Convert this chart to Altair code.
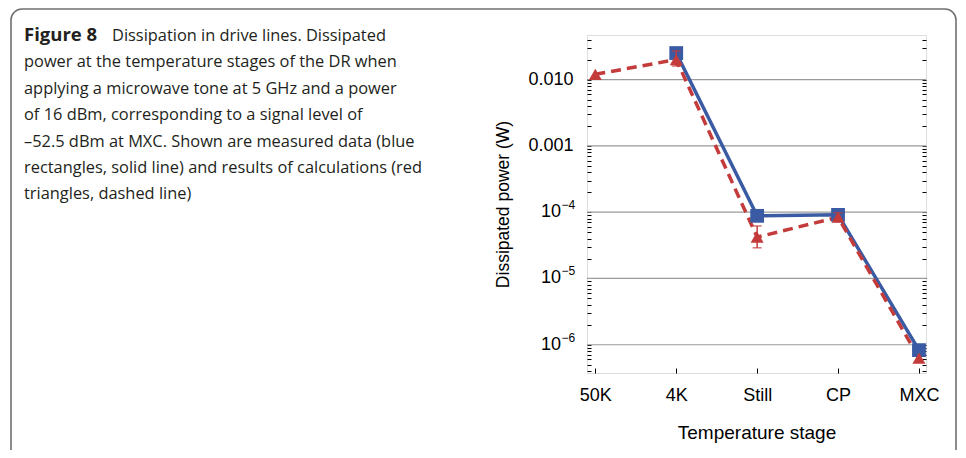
import json
import altair as alt
import pandas as pd

# ---- data ----
stages = ["50K", "4K", "Still", "CP", "MXC"]

meas_stages = ["4K", "Still", "CP", "MXC"]
meas_power = [0.0251, 8.8e-5, 9.1e-5, 8.3e-7]

calc_stages = ["50K", "4K", "Still", "CP", "MXC"]
calc_power = [0.0120, 0.0200, 4.2e-5, 8.4e-5, 6.3e-7]

err_stages = ["4K", "Still", "CP"]
err_low = [0.0160, 2.9e-5, 7.2e-5]
err_high = [0.0270, 6.2e-5, 9.8e-5]

major_ticks = [0.01, 0.001, 0.0001, 1e-05, 1e-06]
major_labels = ["0.010", "0.001", "", "", ""]
power_ticks = [0.0001, 1e-05, 1e-06]
power_exps = ["\u22124", "\u22125", "\u22126"]

caption_bold = "Figure 8"
caption_first = "Dissipation in drive lines. Dissipated"
caption_rest = [
    "power at the temperature stages of the DR when",
    "applying a microwave tone at 5 GHz and a power",
    "of 16 dBm, corresponding to a signal level of",
    "\u201352.5 dBm at MXC. Shown are measured data (blue",
    "rectangles, solid line) and results of calculations (red",
    "triangles, dashed line)",
]

# ---- tables ----
meas = pd.DataFrame({"i": [stages.index(s) for s in meas_stages], "p": meas_power})
calc = pd.DataFrame({"i": [stages.index(s) for s in calc_stages], "p": calc_power})
err = pd.DataFrame({"i": [stages.index(s) for s in err_stages], "lo": err_low, "hi": err_high})
grid = pd.DataFrame({"p": major_ticks})
pw = pd.DataFrame({"p": power_ticks, "e": power_exps})

YMIN, YMAX = 3.75e-7, 0.047
minor_ticks = []
for d in [1e-7, 1e-6, 1e-5, 1e-4, 1e-3, 1e-2]:
    for k in range(1, 10):
        v = k * d
        if YMIN <= v <= YMAX:
            minor_ticks.append(float(f"{v:.3g}"))

BLUE = "#3a5ba3"
RED = "#c43b3b"
FONT = "Liberation Sans"
CAP_FONT = "Open Sans"

xscale = alt.Scale(domain=[-0.103, 4.087], nice=False, zero=False)
yscale = alt.Scale(type="log", domain=[YMIN, YMAX], nice=False)

label_expr_x = f"{json.dumps(stages)}[datum.value]"
mj = json.dumps(major_ticks)
ml = json.dumps(major_labels)
label_expr_y = f"indexof({mj}, datum.value) >= 0 ? {ml}[indexof({mj}, datum.value)] : ''"

xaxis = alt.Axis(
    values=list(range(len(stages))), labelExpr=label_expr_x, title="Temperature stage",
    grid=False, domain=False, offset=-5, tickSize=5, tickColor="black",
    labelFont=FONT, labelFontSize=18, labelColor="black", labelPadding=13,
    titleFont=FONT, titleFontSize=19, titleFontWeight="normal", titleColor="black",
    titlePadding=19,
)
yaxis = alt.Axis(
    values=minor_ticks, labelExpr=label_expr_y, title="Dissipated power (W)",
    grid=False, domain=False, offset=-4, tickSize=4, tickColor="black",
    labelFont=FONT, labelFontSize=18, labelColor="black", labelPadding=14,
    labelOverlap=False, labelBound=False, labelFlush=False,
    titleFont=FONT, titleFontSize=17.5, titleFontWeight="normal", titleColor="black",
    titlePadding=15,
)
yaxis_right = alt.Axis(
    values=minor_ticks, labels=False, title=None, grid=False, domain=False,
    offset=-4, tickSize=4, tickColor="black", orient="right",
)

grid_layer = alt.Chart(grid).mark_rule(color="#9a9a9a", strokeWidth=1.2).encode(
    x=alt.value(0),
    x2=alt.value(339),
    y=alt.Y("p:Q", scale=yscale, axis=yaxis),
)

right_ticks = alt.Chart(grid).mark_rule(opacity=0).encode(
    y=alt.Y("p:Q", scale=yscale, axis=yaxis_right)
)

# power-of-ten tick labels with a real superscript
pow_base = alt.Chart(pw).mark_text(
    text="10", font=FONT, fontSize=18, align="right", baseline="middle",
    color="black", clip=False,
).encode(x=alt.value(-26), y=alt.Y("p:Q", scale=yscale, axis=None))
pow_exp = alt.Chart(pw).mark_text(
    font=FONT, fontSize=12, align="left", baseline="middle", dy=-7,
    color="black", clip=False,
).encode(x=alt.value(-25.5), y=alt.Y("p:Q", scale=yscale, axis=None), text="e:N")

meas_line = alt.Chart(meas).mark_line(color=BLUE, strokeWidth=3.5).encode(
    x=alt.X("i:Q", scale=xscale, axis=xaxis), y=alt.Y("p:Q", scale=yscale, axis=None)
)
meas_pts = alt.Chart(meas).mark_point(
    shape="square", filled=True, size=190, color=BLUE, opacity=1
).encode(x=alt.X("i:Q", scale=xscale), y=alt.Y("p:Q", scale=yscale, axis=None))

calc_line = alt.Chart(calc).mark_line(
    color=RED, strokeWidth=3.5, strokeDash=[10, 6]
).encode(x=alt.X("i:Q", scale=xscale), y=alt.Y("p:Q", scale=yscale, axis=None))
calc_pts = alt.Chart(calc).mark_point(
    shape="triangle-up", filled=True, size=170, color=RED, opacity=1
).encode(x=alt.X("i:Q", scale=xscale), y=alt.Y("p:Q", scale=yscale, axis=None))

err_layer = alt.Chart(err).mark_errorbar(
    ticks=alt.MarkConfig(size=9, color=RED, strokeWidth=1.5), color=RED, thickness=1.5
).encode(
    x=alt.X("i:Q", scale=xscale),
    y=alt.Y("lo:Q", scale=yscale, title=None, axis=None),
    y2="hi:Q",
)

# ---- caption and frame (decoration, outside the plot area) ----
frame = alt.Chart(grid.head(1)).mark_rect(
    fillOpacity=0, stroke="#707070", strokeWidth=1.6, cornerRadius=11, clip=False
).encode(
    x=alt.value(-576), x2=alt.value(369), y=alt.value(-26), y2=alt.value(440)
)

cap_bold = alt.Chart(grid.head(1)).mark_text(
    text=caption_bold, font=CAP_FONT, fontSize=18.5, fontWeight="bold",
    align="left", baseline="alphabetic", color="#231f20", clip=False,
).encode(x=alt.value(-563), y=alt.value(6))

cap_first = alt.Chart(grid.head(1)).mark_text(
    text=caption_first, font=CAP_FONT, fontSize=16.4,
    align="left", baseline="alphabetic", color="#231f20", clip=False,
).encode(x=alt.value(-475), y=alt.value(6))

cap_rest = alt.Chart(grid.head(1)).mark_text(
    text="\n".join(caption_rest), lineBreak="\n", lineHeight=26.4,
    font=CAP_FONT, fontSize=16.4,
    align="left", baseline="alphabetic", color="#231f20", clip=False,
).encode(x=alt.value(-563), y=alt.value(32.4))

data_layers = alt.layer(meas_line, calc_line, meas_pts, calc_pts, err_layer,
                        pow_base, pow_exp)

chart = alt.layer(
    grid_layer, data_layers, right_ticks, frame, cap_bold, cap_first, cap_rest,
).resolve_axis(y="independent").properties(
    width=339, height=338,
    autosize=alt.AutoSizeParams(type="none"),
    padding={"left": 579, "top": 27, "right": 32, "bottom": 77},
).configure_view(stroke="black", strokeWidth=1.3).configure(background="white")

chart.save("out.html", embed_options={"renderer": "svg", "actions": False})
